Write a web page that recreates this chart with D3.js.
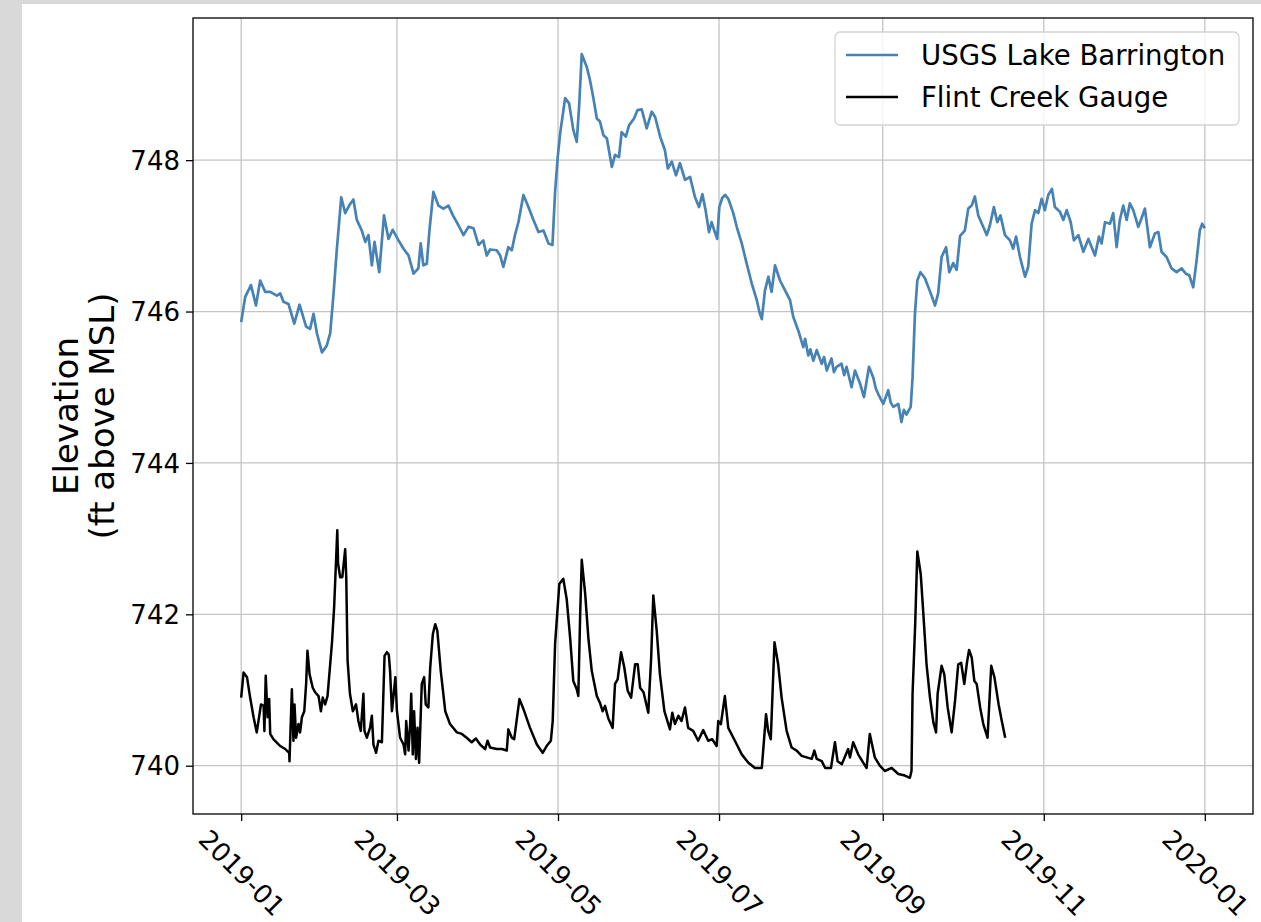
<!DOCTYPE html>
<html>
<head>
<meta charset="utf-8">
<script src="https://cdn.jsdelivr.net/npm/d3@7"></script>
<style>
  html, body { margin: 0; padding: 0; background: #ffffff; }
  svg { display: block; font-family: "DejaVu Sans", sans-serif; }
</style>
</head>
<body>
<svg id="chart" width="1261" height="922"></svg>
<script>
// Days are counted from 2019-01-01; levels are in feet above mean sea level.
const startDate = new Date(2019, 0, 1);

const lakeDays = [
  0, 1.5, 3.7, 5.6, 7.2, 9.1, 11, 13.5, 14.8, 16, 17.9, 20.1, 22.1, 24.6, 26.1, 27.4, 28.7, 30.6, 32.4, 33.7,
  35, 36.2, 37.9, 39.4, 40.9, 42.5, 43.8, 45.7, 47, 48.2, 49.5, 50.5, 52.3, 54.1, 55.8, 57.4, 59.6, 61.5, 63.4, 65.3,
  67.1, 68, 69, 70.3, 71.3, 72.8, 74.7, 76.6, 78.5, 80.2, 82.3, 84.2, 86.1, 88, 89.9, 91.7, 93, 94.3, 96.8, 98.1,
  99.3, 101.2, 102.5, 103.7, 105, 106.9, 108.8, 110.7, 112.6, 114.5, 116.4, 117.9, 118.9, 119.9, 120.8, 122.7, 124.2, 125.8, 127.1, 128,
  129, 130.9, 132.1, 133.4, 134.7, 135.9, 137.2, 138.5, 140.4, 141.6, 143.1, 144.1, 145.7, 146.9, 148.8, 150.1, 151.7, 153.6, 155.5, 156.8,
  158.7, 160.5, 161.6, 163.1, 164.7, 166.2, 168.1, 170, 171.9, 173.4, 174.7, 175.9, 177.2, 178.2, 179.2, 180.3, 181.1, 182.2, 183.3, 184.5,
  186.4, 187.7, 189.6, 191.5, 193.4, 195.3, 196.4, 197.2, 198.4, 199.7, 200.9, 202.2, 204.1, 206, 207.9, 209.1, 211, 212.9, 213.6, 214.8,
  215.6, 216.7, 218, 219.9, 220.8, 221.8, 223.6, 224.5, 225.5, 227.4, 228.4, 229.3, 231.2, 232.5, 234.4, 235.9, 237.8, 239.4, 240.4, 241.3,
  243.2, 245.1, 246, 247, 248.9, 250.1, 251, 252, 253.6, 254.3, 255.2, 256.1, 257.3, 259, 261.5, 262.8, 264, 265.3, 267, 268.2,
  269.7, 271, 272.3, 274.1, 275.4, 276.7, 277.9, 279.2, 280.8, 282.4, 283.6, 285.1, 286.4, 287.6, 289.3, 291.2, 292.4, 293.5, 295, 296.9,
  298.1, 299.4, 300.7, 301.9, 303.2, 304.4, 305.7, 307.1, 308.2, 310.1, 311.4, 312.7, 314.2, 315.4, 317.1, 319, 320.9, 323.4, 324.9, 325.9,
  327.2, 329.1, 330.3, 331.6, 332.8, 334.1, 335.4, 336.6, 337.9, 339.8, 341, 342.3, 344.2, 346.1, 347.4, 348.6, 350.5, 352.4, 354.3, 356.2,
  357.8, 359.1, 360.6, 361.9, 363.1, 364, 365
];
const lakeLevels = [
  745.86, 746.19, 746.35, 746.08, 746.41, 746.26, 746.26, 746.21, 746.24, 746.13, 746.10, 745.84, 746.09, 745.80, 745.77, 745.97, 745.71, 745.46, 745.55, 745.71,
  746.24, 746.81, 747.51, 747.30, 747.40, 747.48, 747.21, 747.07, 746.92, 747.01, 746.61, 746.92, 746.52, 747.27, 746.96, 747.08, 746.94, 746.83, 746.74, 746.50,
  746.57, 746.90, 746.61, 746.63, 747.07, 747.58, 747.40, 747.36, 747.40, 747.27, 747.14, 747.01, 747.12, 747.10, 746.88, 746.94, 746.74, 746.82, 746.81, 746.74,
  746.59, 746.85, 746.81, 747.01, 747.18, 747.54, 747.38, 747.21, 747.05, 747.07, 746.90, 746.88, 747.58, 748.04, 748.35, 748.82, 748.75, 748.40, 748.24, 748.71,
  749.40, 749.23, 749.06, 748.82, 748.55, 748.51, 748.33, 748.29, 747.91, 748.07, 748.04, 748.37, 748.31, 748.46, 748.55, 748.66, 748.67, 748.42, 748.64, 748.57,
  748.31, 748.13, 747.89, 747.98, 747.80, 747.96, 747.74, 747.78, 747.51, 747.38, 747.55, 747.34, 747.05, 747.18, 747.07, 746.96, 747.38, 747.50, 747.54, 747.49,
  747.30, 747.12, 746.90, 746.63, 746.37, 746.15, 745.98, 745.90, 746.28, 746.46, 746.26, 746.61, 746.41, 746.28, 746.15, 745.93, 745.75, 745.53, 745.64, 745.42,
  745.50, 745.35, 745.49, 745.31, 745.40, 745.22, 745.38, 745.20, 745.27, 745.31, 745.16, 745.27, 745.00, 745.22, 745.05, 744.87, 745.27, 745.13, 744.98, 744.91,
  744.78, 744.96, 744.80, 744.74, 744.78, 744.54, 744.70, 744.64, 744.74, 745.13, 745.97, 746.41, 746.52, 746.44, 746.21, 746.08, 746.24, 746.72, 746.85, 746.52,
  746.64, 746.55, 747.00, 747.07, 747.36, 747.40, 747.52, 747.27, 747.14, 747.01, 747.14, 747.38, 747.18, 747.27, 747.01, 746.94, 746.83, 746.99, 746.72, 746.46,
  746.59, 747.16, 747.34, 747.30, 747.49, 747.34, 747.54, 747.62, 747.38, 747.32, 747.21, 747.34, 747.18, 746.94, 747.01, 746.79, 746.96, 746.74, 746.99, 746.90,
  747.18, 747.16, 747.30, 746.85, 747.21, 747.40, 747.21, 747.43, 747.34, 747.12, 747.23, 747.36, 746.85, 747.03, 747.05, 746.79, 746.72, 746.57, 746.52, 746.57,
  746.50, 746.48, 746.32, 746.68, 747.07, 747.16, 747.10
];

const creekDays = [
  0, 0.9, 2.2, 3.4, 4.7, 5.9, 7.5, 8.5, 8.8, 9.3, 10, 10.6, 11, 12.2, 14.8, 16.7, 18.2, 18.3, 19.2, 19.8,
  20.2, 20.8, 21.7, 22.3, 23, 23.9, 24.6, 25.1, 25.9, 27.1, 28, 29.3, 30.2, 30.9, 31.8, 32.7, 33.5, 34.4, 35.2, 35.7,
  36.4, 36.7, 37.5, 38.3, 39.4, 39.8, 40.3, 41.2, 42.3, 43.5, 44.4, 45.3, 46.3, 46.7, 47.6, 48.8, 49.5, 50.1, 51.1, 52,
  53.3, 54.3, 55.2, 55.9, 56.4, 57.1, 58.4, 59, 60.2, 61.5, 62.1, 62.5, 63.4, 64, 64.4, 65, 65.5, 66.2, 66.8, 67.4,
  68.4, 69.3, 69.9, 70.9, 71.6, 72.6, 73.5, 74.3, 75.6, 77.3, 79.1, 81.7, 83.6, 85.4, 87.3, 88.9, 90.5, 92.4, 93.3, 94.3,
  96.8, 98.7, 100.6, 101.2, 102.5, 103.4, 105.4, 106.9, 109.4, 112, 114.2, 115.7, 117.3, 118, 118.9, 120.5, 122, 123.3, 124.6, 125.8,
  127.1, 127.7, 128.4, 129, 130.3, 131.5, 132.8, 134.7, 135.9, 136.9, 137.8, 139.1, 140.7, 141.6, 142.6, 143.9, 145.1, 146.4, 147.7, 149.2,
  150.2, 151.1, 152.4, 154.2, 155.3, 156.1, 157.4, 158.6, 160.3, 162.4, 163.3, 164.3, 165.6, 166.8, 168.1, 169.3, 171.2, 173.1, 175, 176.9,
  178.4, 180.1, 180.7, 181.7, 183.2, 184.5, 187, 189.6, 192.1, 194.6, 197.2, 198.1, 198.8, 199.6, 200.6, 202, 203.4, 204.7, 206.6, 208.5,
  210.4, 212.3, 214.2, 216.1, 217.1, 218, 219.9, 221.2, 223.4, 224.9, 225.9, 227.5, 229.9, 230.6, 231.8, 233.7, 235.6, 236.9, 238.1, 240,
  241.9, 243.8, 246.4, 248.9, 251.4, 253.3, 253.9, 254.3, 255.3, 256.1, 257.4, 258.4, 259.6, 260.9, 262.2, 263.2, 263.8, 265.3, 266.3, 267.6,
  269.1, 270.4, 271.6, 272.7, 273.9, 274.9, 275.7, 276.7, 277.7, 278.6, 279.9, 281.1, 282.7, 284.1, 285.3, 286.9, 288.1, 289.4
];
const creekLevels = [
  740.90, 741.23, 741.17, 740.90, 740.64, 740.44, 740.81, 740.79, 740.46, 741.19, 740.64, 740.88, 740.42, 740.35, 740.26, 740.22, 740.17, 740.06, 741.01, 740.33,
  740.81, 740.37, 740.55, 740.44, 740.64, 740.72, 741.08, 741.52, 741.21, 741.03, 740.97, 740.92, 740.72, 740.90, 740.81, 740.92, 741.25, 741.63, 742.09, 742.51,
  743.11, 742.67, 742.49, 742.49, 742.86, 742.49, 741.39, 740.95, 740.72, 740.81, 740.59, 740.46, 740.95, 740.46, 740.37, 740.50, 740.66, 740.28, 740.17, 740.33,
  740.31, 741.45, 741.50, 741.47, 741.25, 740.72, 741.17, 740.72, 740.37, 740.28, 740.15, 740.59, 740.20, 740.55, 740.95, 740.15, 740.72, 740.09, 740.50, 740.04,
  741.08, 741.17, 740.81, 740.77, 741.30, 741.74, 741.87, 741.78, 741.25, 740.72, 740.55, 740.44, 740.42, 740.37, 740.31, 740.36, 740.28, 740.22, 740.33, 740.24,
  740.22, 740.22, 740.20, 740.48, 740.37, 740.35, 740.88, 740.75, 740.50, 740.28, 740.17, 740.26, 740.33, 740.59, 741.61, 742.40, 742.47, 742.20, 741.69, 741.12,
  741.01, 740.92, 742.00, 742.72, 742.27, 741.69, 741.25, 740.92, 740.83, 740.72, 740.79, 740.62, 740.50, 741.08, 741.14, 741.50, 741.30, 740.99, 740.90, 741.34,
  741.34, 741.03, 740.97, 740.70, 741.43, 742.25, 741.78, 741.21, 740.72, 740.48, 740.70, 740.55, 740.66, 740.59, 740.77, 740.50, 740.46, 740.33, 740.47, 740.33,
  740.35, 740.26, 740.59, 740.55, 740.92, 740.50, 740.33, 740.15, 740.04, 739.97, 739.97, 740.37, 740.68, 740.46, 740.35, 741.63, 741.34, 740.90, 740.46, 740.24,
  740.20, 740.13, 740.11, 740.09, 740.20, 740.09, 740.06, 739.97, 739.97, 740.31, 740.06, 740.02, 740.22, 740.11, 740.31, 740.15, 740.04, 739.97, 740.42, 740.11,
  740.00, 739.93, 739.97, 739.89, 739.87, 739.84, 739.93, 740.95, 741.87, 742.83, 742.53, 742.00, 741.34, 740.90, 740.57, 740.44, 740.95, 741.32, 741.21, 740.77,
  740.44, 740.86, 741.34, 741.36, 741.08, 741.36, 741.53, 741.43, 741.12, 741.08, 740.77, 740.55, 740.37, 741.32, 741.17, 740.81, 740.59, 740.37
];

const yTickValues = [740, 742, 744, 746, 748];
const seriesNames = ["USGS Lake Barrington", "Flint Creek Gauge"];
const seriesColors = ["#4682b4", "#000000"];
const yLabelLines = ["Elevation", "(ft above MSL)"];

const toDate = d => new Date(startDate.getTime() + d * 86400000);
const lakeData = lakeDays.map((d, i) => ({ date: toDate(d), value: lakeLevels[i] }));
const creekData = creekDays.map((d, i) => ({ date: toDate(d), value: creekLevels[i] }));

const W = 1261, H = 922;
const plot = { left: 193, right: 1253, top: 18, bottom: 814 };

const svg = d3.select("#chart");

// outer frame: grey strip on the left and top, white figure area
svg.append("rect").attr("width", W).attr("height", H).attr("fill", "#d9d9d9");
svg.append("rect").attr("x", 22).attr("y", 4).attr("width", W - 22).attr("height", H - 4).attr("fill", "#ffffff");

// scales with a 5% margin around the data
const allDates = lakeData.concat(creekData).map(d => d.date.getTime());
const xMin = d3.min(allDates), xMax = d3.max(allDates);
const xPad = (xMax - xMin) * 0.05;
const x = d3.scaleTime()
  .domain([new Date(xMin - xPad), new Date(xMax + xPad)])
  .range([plot.left, plot.right]);

const allVals = lakeLevels.concat(creekLevels);
const yMin = d3.min(allVals), yMax = d3.max(allVals);
const yPad = (yMax - yMin) * 0.05;
const y = d3.scaleLinear()
  .domain([yMin - yPad, yMax + yPad])
  .range([plot.bottom, plot.top]);

const xTicks = d3.timeMonth.every(2).range(new Date(2019, 0, 1), new Date(2020, 0, 2));
const fmt = d3.timeFormat("%Y-%m");

// grid
const grid = svg.append("g").attr("stroke", "#c4c4c4").attr("stroke-width", 1.3);
grid.selectAll("line.vx").data(xTicks).enter().append("line")
  .attr("x1", d => x(d)).attr("x2", d => x(d))
  .attr("y1", plot.top).attr("y2", plot.bottom);
grid.selectAll("line.hy").data(yTickValues).enter().append("line")
  .attr("x1", plot.left).attr("x2", plot.right)
  .attr("y1", d => y(d)).attr("y2", d => y(d));

// series lines
const line = d3.line().x(d => x(d.date)).y(d => y(d.value));
svg.append("clipPath").attr("id", "plotclip").append("rect")
  .attr("x", plot.left).attr("y", plot.top)
  .attr("width", plot.right - plot.left).attr("height", plot.bottom - plot.top);
const lines = svg.append("g").attr("clip-path", "url(#plotclip)");
lines.append("path").datum(lakeData)
  .attr("d", line).attr("fill", "none")
  .attr("stroke", seriesColors[0]).attr("stroke-width", 2.7).attr("stroke-linejoin", "round");
lines.append("path").datum(creekData)
  .attr("d", line).attr("fill", "none")
  .attr("stroke", seriesColors[1]).attr("stroke-width", 2.5).attr("stroke-linejoin", "round");

// axes
const xAxis = svg.append("g").attr("transform", `translate(0,${plot.bottom})`)
  .call(d3.axisBottom(x).tickValues(xTicks).tickSize(7).tickFormat(fmt));
xAxis.select(".domain").remove();
xAxis.selectAll(".tick line").attr("stroke", "#000").attr("stroke-width", 1.3);
xAxis.selectAll(".tick text")
  .attr("font-size", 26).attr("fill", "#000")
  .attr("font-family", "DejaVu Sans")
  .attr("text-anchor", "middle")
  .attr("dominant-baseline", "central")
  .attr("x", 0).attr("y", 873 - plot.bottom).attr("dy", null)
  .attr("transform", `rotate(45,0,${873 - plot.bottom})`);

const yAxis = svg.append("g").attr("transform", `translate(${plot.left},0)`)
  .call(d3.axisLeft(y).tickValues(yTickValues).tickSize(7).tickFormat(d3.format("d")));
yAxis.select(".domain").remove();
yAxis.selectAll(".tick line").attr("stroke", "#000").attr("stroke-width", 1.3);
yAxis.selectAll(".tick text")
  .attr("font-size", 26).attr("fill", "#000")
  .attr("font-family", "DejaVu Sans")
  .attr("x", -13).attr("dy", "0.35em");

// frame
svg.append("rect")
  .attr("x", plot.left).attr("y", plot.top)
  .attr("width", plot.right - plot.left).attr("height", plot.bottom - plot.top)
  .attr("fill", "none").attr("stroke", "#000").attr("stroke-width", 1.3);

// y label on two lines
const yl = svg.append("text")
  .attr("transform", `translate(0,${(plot.top + plot.bottom) / 2}) rotate(-90)`)
  .attr("text-anchor", "middle").attr("font-size", 34).attr("fill", "#000");
yl.append("tspan").attr("x", 0).attr("y", 78).text(yLabelLines[0]);
yl.append("tspan").attr("x", 0).attr("y", 114).text(yLabelLines[1]);

// legend
const lg = svg.append("g");
lg.append("rect")
  .attr("x", 835).attr("y", 32).attr("width", 404).attr("height", 93)
  .attr("rx", 5).attr("fill", "#ffffff").attr("fill-opacity", 0.8)
  .attr("stroke", "#d3d3d3").attr("stroke-width", 1.3);
seriesNames.forEach((name, i) => {
  const cy = 55 + i * 42;
  lg.append("line").attr("x1", 846).attr("x2", 898).attr("y1", cy).attr("y2", cy)
    .attr("stroke", seriesColors[i]).attr("stroke-width", 2.5);
  lg.append("text").attr("x", 921).attr("y", cy).attr("dy", "0.35em")
    .attr("font-size", 27.6).attr("fill", "#000").text(name);
});
</script>
</body>
</html>
